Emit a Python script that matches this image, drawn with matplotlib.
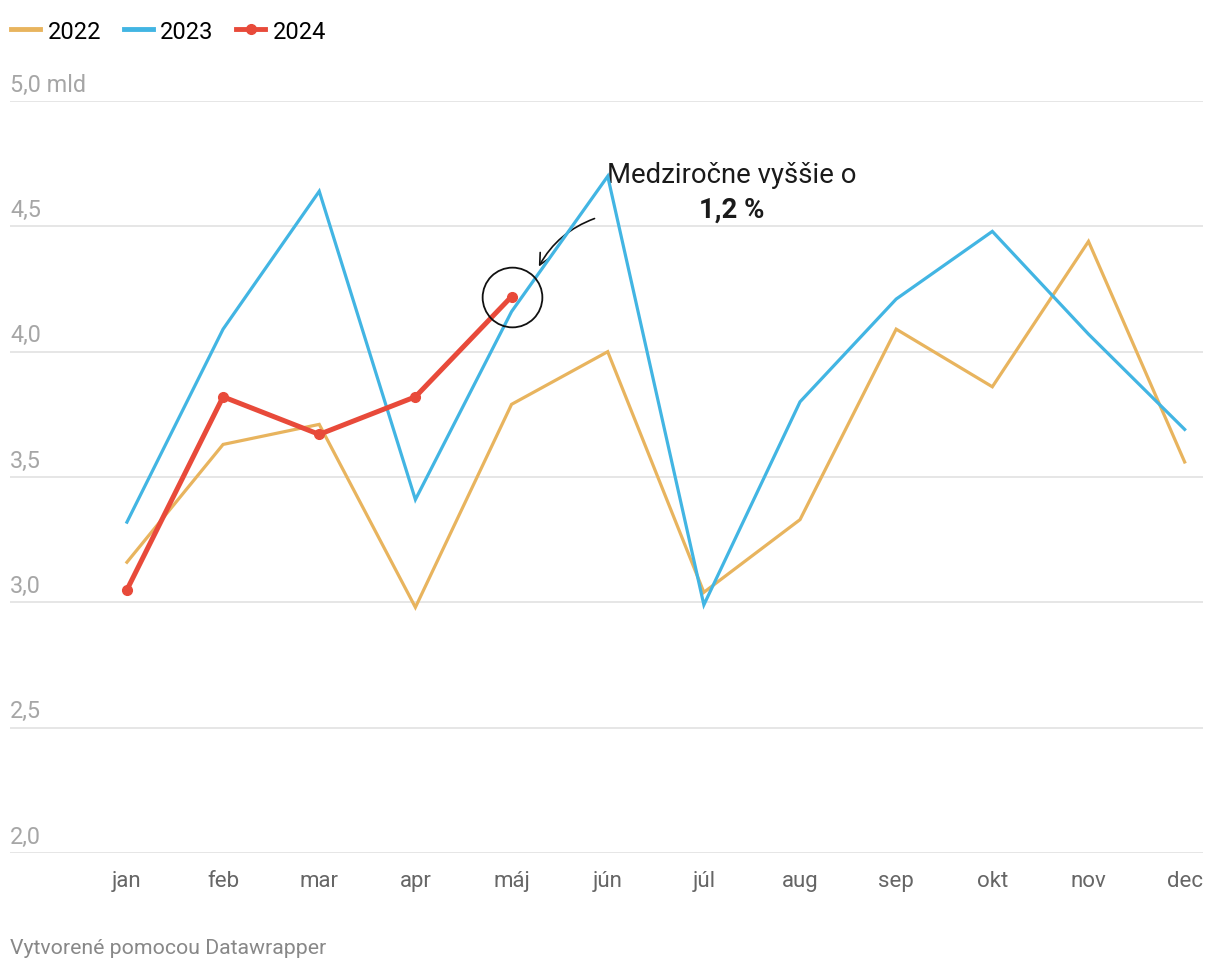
import matplotlib.pyplot as plt
from matplotlib.lines import Line2D

plt.rcParams['font.family'] = ['Roboto', 'DejaVu Sans']

months = ['jan', 'feb', 'mar', 'apr', 'máj', 'jún', 'júl', 'aug', 'sep', 'okt', 'nov', 'dec']
y2022 = [3.16, 3.63, 3.71, 2.98, 3.79, 4.00, 3.04, 3.33, 4.09, 3.86, 4.44, 3.56]
y2023 = [3.32, 4.09, 4.64, 3.41, 4.16, 4.70, 2.99, 3.80, 4.21, 4.48, 4.07, 3.69]
y2024 = [3.05, 3.82, 3.67, 3.82, 4.22]
yticks = [2.0, 2.5, 3.0, 3.5, 4.0, 4.5, 5.0]
ylabels = ['2,0', '2,5', '3,0', '3,5', '4,0', '4,5', '5,0 mld']

c22 = '#e8b45e'
c23 = '#42b5e3'
c24 = '#e84a3a'

fig = plt.figure(figsize=(12.2, 9.7), dpi=100)
ax = fig.add_axes([0.0082, 0.1196, 0.9778, 0.7752])

x = list(range(len(months)))
ax.plot(x, y2022, color=c22, lw=2.3, solid_joinstyle='miter', zorder=3)
ax.plot(x, y2023, color=c23, lw=2.3, solid_joinstyle='miter', zorder=4)
ax.plot(x[:len(y2024)], y2024, color=c24, lw=3.6, marker='o', ms=7, zorder=5)

# circle round the last 2024 point
ax.plot([4], [y2024[4]], marker='o', ms=43, mfc='none', mec='#111111', mew=1.3, zorder=6)

ax.set_xlim(-1.216, 11.19)
ax.set_ylim(2.0, 5.0)

for side in ['top', 'right', 'left', 'bottom']:
    ax.spines[side].set_visible(False)
ax.set_yticks(yticks)
ax.set_yticklabels([])
ax.tick_params(axis='y', length=0)
ax.grid(axis='y', color='#e1e1e1', lw=1.2)
ax.set_axisbelow(True)
for v, lab in zip(yticks, ylabels):
    ax.annotate(lab, xy=(0, v), xycoords=('axes fraction', 'data'),
                xytext=(0, 3.8), textcoords='offset points',
                ha='left', va='bottom', fontsize=16.8, color='#a6a6a6')

ax.set_xticks(x)
ax.set_xticklabels(months, fontsize=16, color='#666666')
ax.tick_params(axis='x', length=0, pad=12.5)

# annotation
ax.text(6.29, 4.705, 'Medziročne vyššie o', ha='center', va='center',
        fontsize=19.8, color='#1a1a1a')
ax.text(6.29, 4.57, '1,2 %', ha='center', va='center',
        fontsize=19.8, fontweight='bold', color='#1a1a1a')
ax.annotate('', xy=(4.27, 4.33), xytext=(4.89, 4.535),
            arrowprops=dict(arrowstyle='->', color='#111111', lw=1.2,
                            connectionstyle='arc3,rad=0.2',
                            mutation_scale=20))

handles = [Line2D([], [], color=c22, lw=3.5),
           Line2D([], [], color=c23, lw=3.5),
           Line2D([], [], color=c24, lw=3.5, marker='o', ms=7)]
fig.legend(handles, ['2022', '2023', '2024'], loc='center left',
           bbox_to_anchor=(0.009, 0.967), ncol=3, frameon=False,
           fontsize=17, handlelength=1.25, handletextpad=0.3,
           columnspacing=0.95, borderaxespad=0, borderpad=0)

fig.text(0.0082, 1 - 949 / 970, 'Vytvorené pomocou Datawrapper',
         ha='left', va='center', fontsize=15.3, color='#888888')

fig.savefig('out.png', dpi=100)
